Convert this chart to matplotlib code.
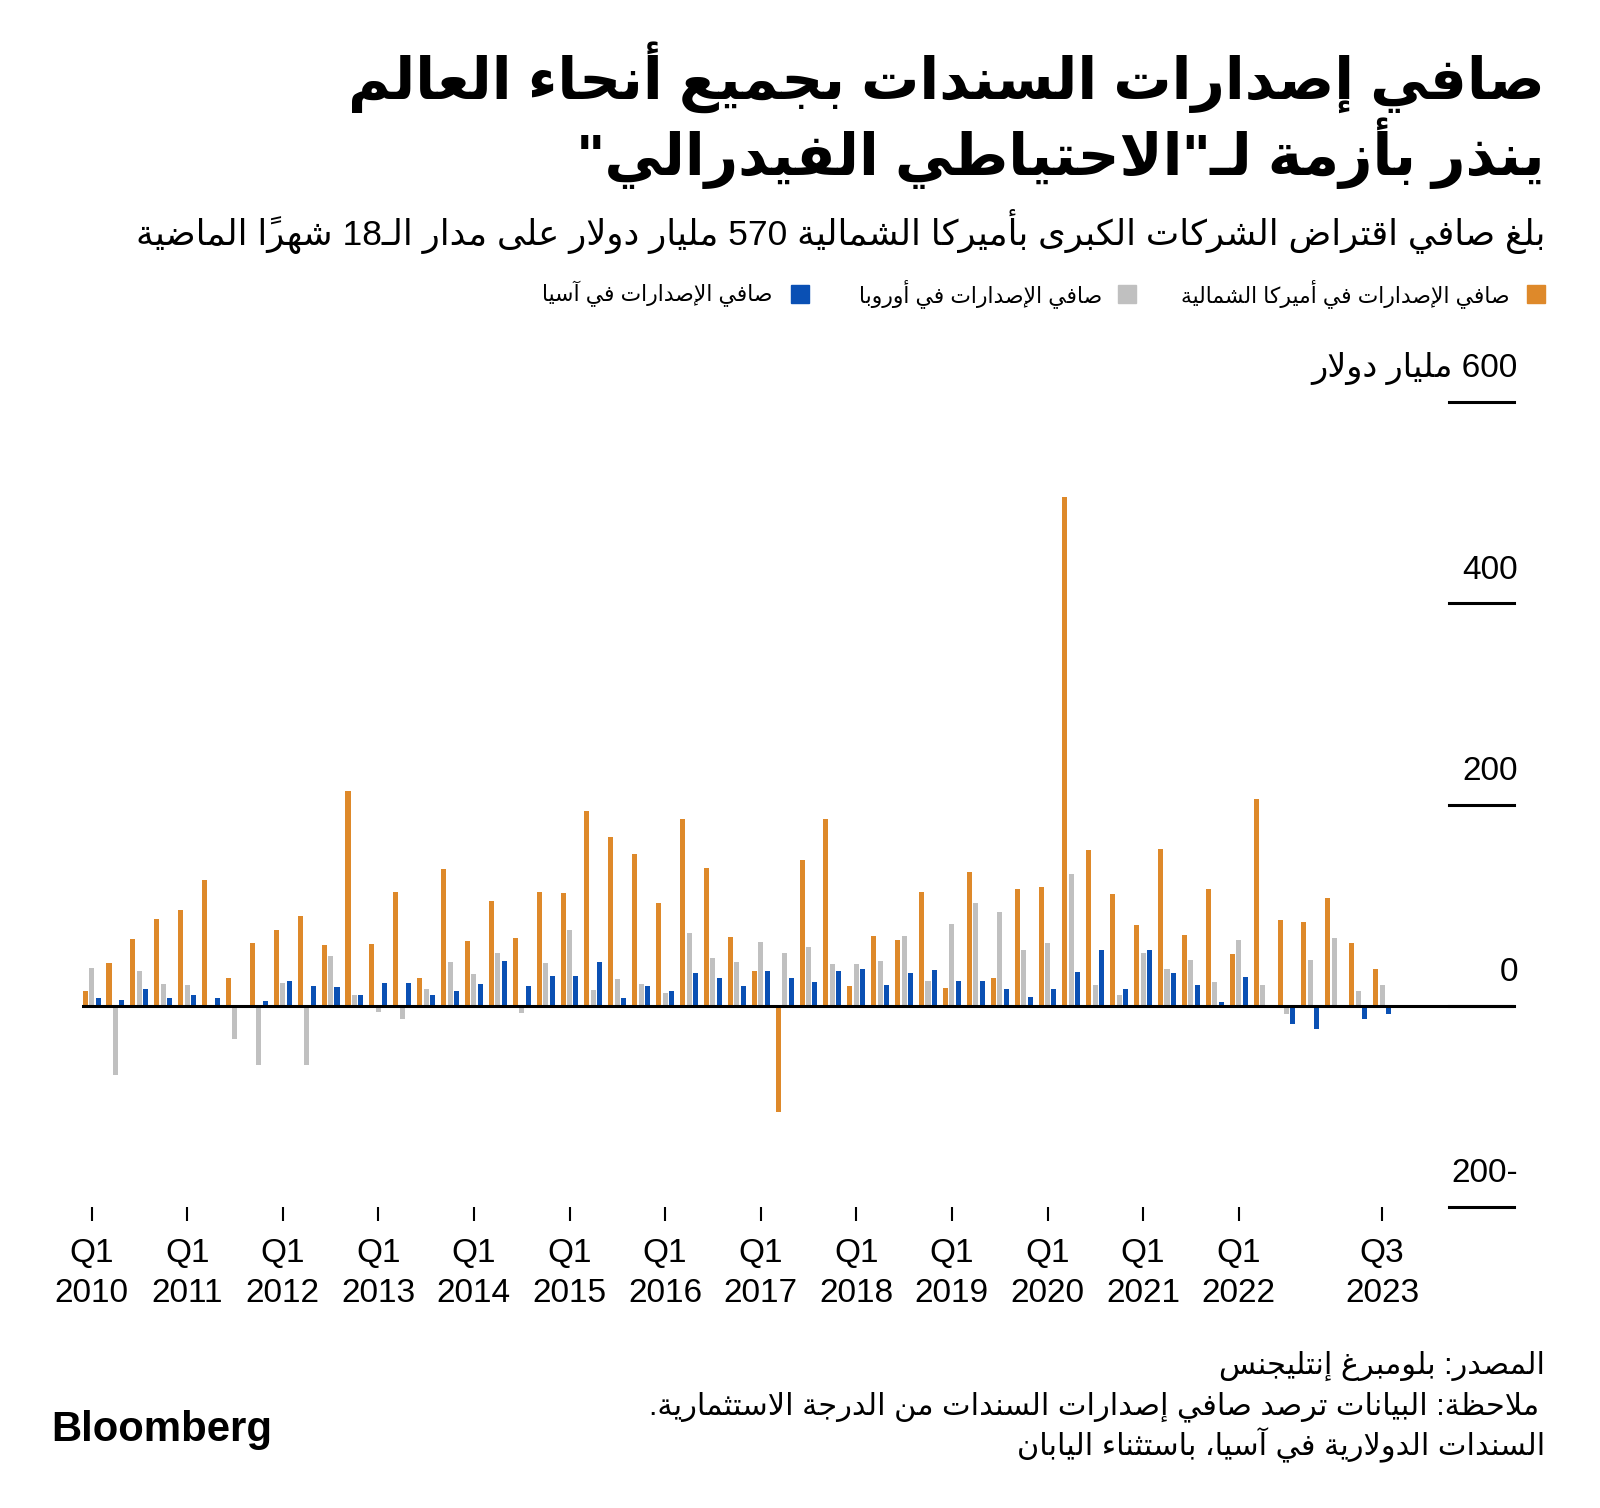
import matplotlib
matplotlib.use('Agg')
import matplotlib.pyplot as plt
import matplotlib.transforms as mtransforms
import numpy as np

# %%
# data, billions of dollars, Q1 2010 .. Q3 2023
north_america = [15, 42, 66, 86, 95, 125, 28, 62, 75, 89, 60, 213, 61, 113, 28, 136,
                 64, 104, 67, 113, 112, 194, 168, 151, 102, 186, 137, 68, 35, -106, 145, 186,
                 20, 69, 65, 113, 18, 133, 28, 116, 118, 506, 155, 111, 80, 156,
                 70, 116, 51, 205, 85, 83, 107, 62, 37]
europe = [38, -69, 35, 22, 21, 0, -33, -59, 23, -59, 49, 11, -6, -13, 17, 43,
          32, 52, -7, 42, 75, 16, 27, 22, 13, 72, 47, 43, 63, 52, 58, 41,
          41, 44, 69, 25, 81, 102, 93, 55, 62, 131, 21, 11, 52, 37,
          45, 24, 65, 21, -8, 45, 67, 15, 21]
asia = [8, 6, 17, 8, 11, 8, 0, 5, 25, 20, 19, 11, 23, 23, 11, 15,
        22, 44, 20, 30, 30, 43, 8, 20, 15, 33, 28, 20, 35, 28, 24, 35,
        37, 21, 33, 36, 25, 25, 17, 9, 17, 34, 55, 17, 55, 33,
        21, 4, 29, 0, -18, -23, 0, -13, -8]

tick_idx = [0, 4, 8, 12, 16, 20, 24, 28, 32, 36, 40, 44, 48, 54]
tick_labels = ['Q1\n2010', 'Q1\n2011', 'Q1\n2012', 'Q1\n2013', 'Q1\n2014', 'Q1\n2015',
               'Q1\n2016', 'Q1\n2017', 'Q1\n2018', 'Q1\n2019', 'Q1\n2020', 'Q1\n2021',
               'Q1\n2022', 'Q3\n2023']
y_ticks = [600, 400, 200, 0, -200]
y_tick_labels = ['600 مليار دولار', '400', '200', '0', '-200']

title_1 = 'صافي إصدارات السندات بجميع أنحاء العالم'
title_2 = 'ينذر بأزمة لـ"الاحتياطي الفيدرالي"'
subtitle = 'بلغ صافي اقتراض الشركات الكبرى بأميركا الشمالية 570 مليار دولار على مدار الـ18 شهراً الماضية'
legend_labels = ['صافي الإصدارات في أميركا الشمالية', 'صافي الإصدارات في أوروبا',
                 'صافي الإصدارات في آسيا']
footer = ['المصدر: بلومبرغ إنتليجنس',
          'ملاحظة: البيانات ترصد صافي إصدارات السندات من الدرجة الاستثمارية.',
          'السندات الدولارية في آسيا، باستثناء اليابان']

orange = '#DE892A'
grey = '#C0C0C0'
blue = '#0A50B4'

# %%
# matplotlib has no arabic shaping, so do contextual forms + rtl order by hand
FORMS = {
    'ء': 'ﺀ', 'آ': 'ﺁﺂ', 'أ': 'ﺃﺄ', 'ؤ': 'ﺅﺆ', 'إ': 'ﺇﺈ', 'ئ': 'ﺉﺊﺋﺌ',
    'ا': 'ﺍﺎ', 'ب': 'ﺏﺐﺑﺒ', 'ة': 'ﺓﺔ', 'ت': 'ﺕﺖﺗﺘ', 'ث': 'ﺙﺚﺛﺜ', 'ج': 'ﺝﺞﺟﺠ',
    'ح': 'ﺡﺢﺣﺤ', 'خ': 'ﺥﺦﺧﺨ', 'د': 'ﺩﺪ', 'ذ': 'ﺫﺬ', 'ر': 'ﺭﺮ', 'ز': 'ﺯﺰ',
    'س': 'ﺱﺲﺳﺴ', 'ش': 'ﺵﺶﺷﺸ', 'ص': 'ﺹﺺﺻﺼ', 'ض': 'ﺽﺾﺿﻀ', 'ط': 'ﻁﻂﻃﻄ',
    'ظ': 'ﻅﻆﻇﻈ', 'ع': 'ﻉﻊﻋﻌ', 'غ': 'ﻍﻎﻏﻐ', 'ف': 'ﻑﻒﻓﻔ', 'ق': 'ﻕﻖﻗﻘ',
    'ك': 'ﻙﻚﻛﻜ', 'ل': 'ﻝﻞﻟﻠ', 'م': 'ﻡﻢﻣﻤ', 'ن': 'ﻥﻦﻧﻨ', 'ه': 'ﻩﻪﻫﻬ',
    'و': 'ﻭﻮ', 'ى': 'ﻯﻰ', 'ي': 'ﻱﻲﻳﻴ', 'ـ': 'ــــ',
}
LAM_ALEF = {'آ': 'ﻵﻶ', 'أ': 'ﻷﻸ', 'إ': 'ﻹﻺ', 'ا': 'ﻻﻼ'}
MARKS = set('\u064b\u064c\u064d\u064e\u064f\u0650\u0651\u0652\u0670')


def shape(text):
    chars = list(text)
    n = len(chars)
    out = []
    i = 0
    while i < n:
        c = chars[i]
        if c not in FORMS:
            out.append(c)
            i += 1
            continue
        k = i - 1
        while k >= 0 and chars[k] in MARKS:
            k -= 1
        prev = k >= 0 and chars[k] in FORMS and len(FORMS[chars[k]]) == 4
        k = i + 1
        while k < n and chars[k] in MARKS:
            k += 1
        nxt = chars[k] if k < n else ''
        if c == 'ل' and nxt in LAM_ALEF:
            out.append(LAM_ALEF[nxt][1 if prev else 0])
            i = k + 1
            continue
        f = FORMS[c]
        joins_next = len(f) == 4 and nxt in FORMS and nxt != 'ء'
        if prev and joins_next:
            out.append(f[3])
        elif prev:
            out.append(f[1] if len(f) > 1 else f[0])
        elif joins_next:
            out.append(f[2])
        else:
            out.append(f[0])
        i += 1
    return ''.join(out)


def rev_clusters(s):
    cl = []
    for ch in s:
        if ch in MARKS and cl:
            cl[-1] += ch
        else:
            cl.append(ch)
    return ''.join(cl[::-1])


def rtl(text):
    s = shape(text)
    runs = []
    for ch in s:
        ltr = ch.isascii() and ch.isalnum()
        if runs and runs[-1][0] == ltr:
            runs[-1][1] += ch
        else:
            runs.append([ltr, ch])
    parts = [r[1] if r[0] else rev_clusters(r[1]) for r in runs]
    return ''.join(parts[::-1])


# %%
fam = ['Liberation Sans', 'DejaVu Sans']
plt.rcParams['font.family'] = fam

W, H = 1600, 1508
fig = plt.figure(figsize=(W / 100, H / 100), dpi=100)
fig.patch.set_facecolor('white')

def fx(px):
    return px / W

def fy(py):
    return 1 - py / H

ax_left, ax_right, ax_top, ax_bottom = 82, 1514, 402, 1207
ax = fig.add_axes([fx(ax_left), fy(ax_bottom), (ax_right - ax_left) / W, (ax_bottom - ax_top) / H])

x = np.arange(len(north_america))
bw = 0.21
ax.bar(x - 0.27, north_america, width=bw, color=orange, zorder=2)
ax.bar(x, europe, width=bw, color=grey, zorder=2)
ax.bar(x + 0.27, asia, width=bw, color=blue, zorder=2)

ax.set_xlim(-0.4, 59.52)
ax.set_ylim(-200, 600)
for s in ax.spines.values():
    s.set_visible(False)
ax.set_yticks([])
ax.set_xticks(tick_idx)
ax.set_xticklabels(tick_labels, fontsize=24, linespacing=1.4)
ax.tick_params(axis='x', length=10, width=1.5, color='black', pad=12, direction='out')

trans = mtransforms.blended_transform_factory(ax.transAxes, ax.transData)
ax.axhline(0, color='black', lw=2.2, zorder=3)
for v, lab in zip(y_ticks, y_tick_labels):
    ax.plot([0.9546, 1.0], [v, v], transform=trans, color='black', lw=2.2, clip_on=False, zorder=3)
    ax.text(1.0028, v + 33, rtl(lab), transform=trans, ha='right', va='center',
            fontsize=24, color='black')

# %%
renderer = fig.canvas.get_renderer()


def fit(t, width_px):
    for _ in range(3):
        w = t.get_window_extent(renderer).width
        t.set_fontsize(t.get_fontsize() * width_px / w)
    return t.get_fontsize()


t1 = fig.text(fx(1545), fy(77), rtl(title_1), ha='right', va='center', fontsize=40,
              fontweight='bold', color='black')
size = fit(t1, 1198)
fig.text(fx(1545), fy(153), rtl(title_2), ha='right', va='center', fontsize=size,
         fontweight='bold', color='black')

t3 = fig.text(fx(1545), fy(231), rtl(subtitle), ha='right', va='center', fontsize=22, color='black')
fit(t3, 1409)

# legend
leg_sq_right = [1545, 1136, 809]
leg_txt_right = [1510, 1102, 772]
leg_col = [orange, grey, blue]
lt = fig.text(fx(leg_txt_right[0]), fy(294), rtl(legend_labels[0]), ha='right', va='center',
              fontsize=16, color='black')
lsize = fit(lt, 329)
for i in range(1, 3):
    fig.text(fx(leg_txt_right[i]), fy(294), rtl(legend_labels[i]), ha='right', va='center',
             fontsize=lsize, color='black')
for sr, c in zip(leg_sq_right, leg_col):
    fig.patches.append(plt.Rectangle((fx(sr - 18), fy(303)), 18 / W, 18 / H,
                                     transform=fig.transFigure, color=c))

# footer
f2 = fig.text(fx(1539), fy(1407), rtl(footer[1]), ha='right', va='center', fontsize=20, color='black')
fsize = fit(f2, 886)
fig.text(fx(1545), fy(1366), rtl(footer[0]), ha='right', va='center', fontsize=fsize, color='black')
fig.text(fx(1545), fy(1445), rtl(footer[2]), ha='right', va='center', fontsize=fsize, color='black')

bl = fig.text(fx(51), fy(1430), 'Bloomberg', ha='left', va='center', fontsize=28,
              fontweight='bold', color='black')
fit(bl, 221)

fig.savefig('out.png', dpi=100, facecolor='white')
